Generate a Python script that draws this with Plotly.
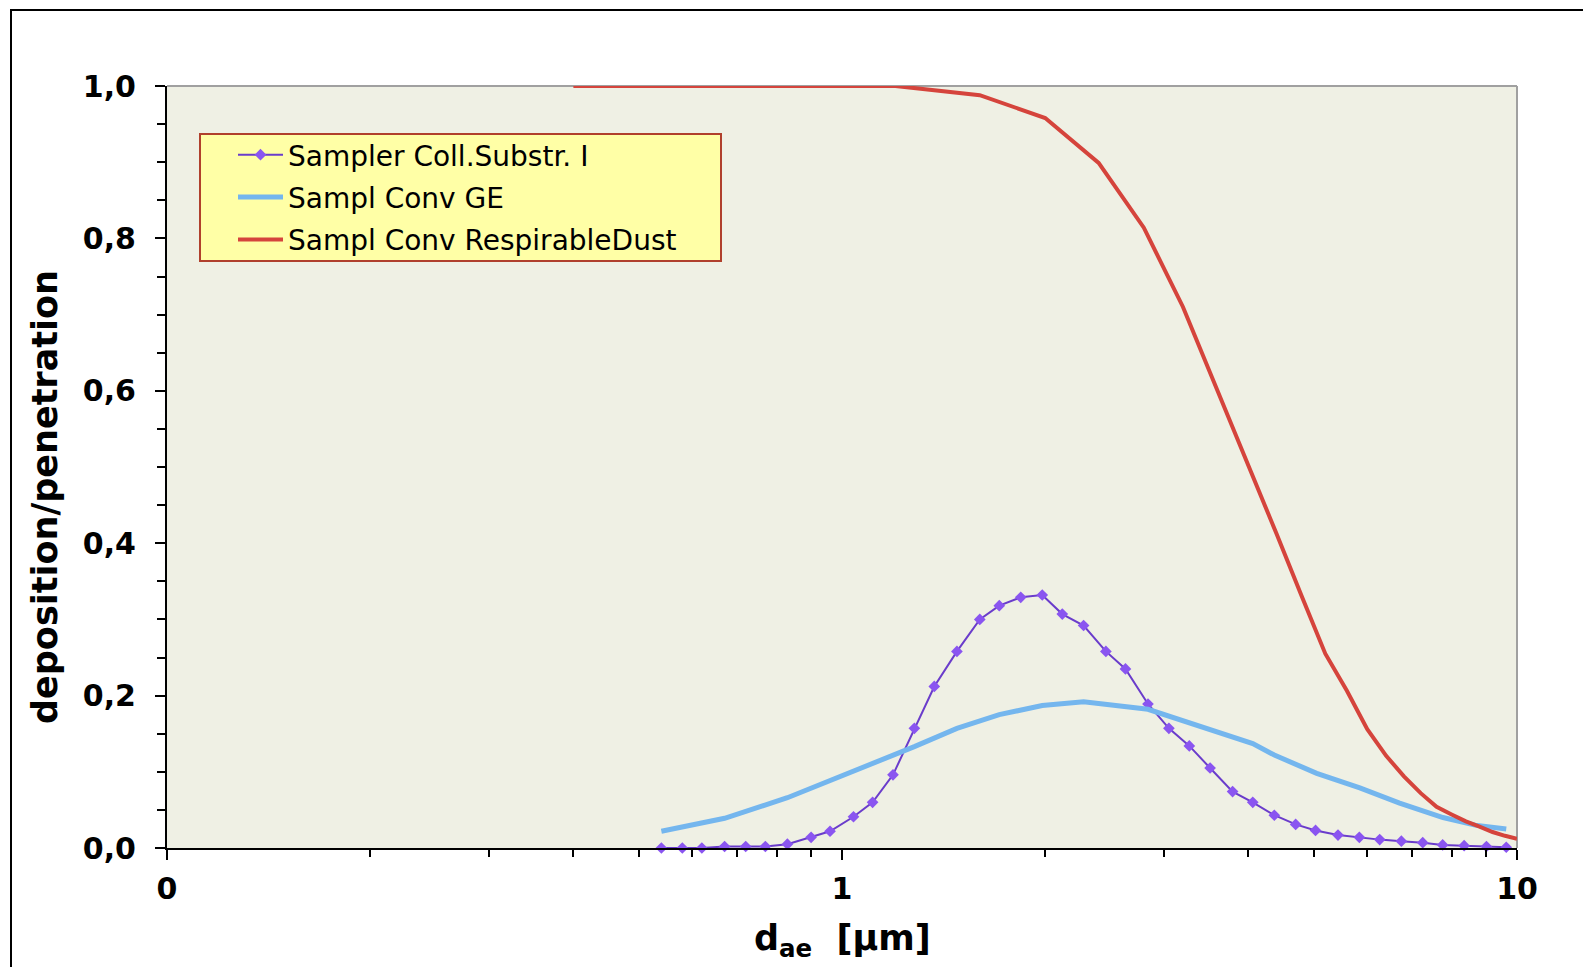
import plotly.graph_objects as go

# ---- data ----
purple_x = [0.54, 0.58, 0.62, 0.67, 0.72, 0.77, 0.83, 0.90, 0.96, 1.04, 1.11, 1.19, 1.28, 1.37,
            1.48, 1.60, 1.71, 1.84, 1.98, 2.12, 2.28, 2.46, 2.63, 2.84, 3.05, 3.27, 3.51, 3.79,
            4.06, 4.37, 4.70, 5.03, 5.43, 5.84, 6.26, 6.74, 7.25, 7.76, 8.35, 9.01, 9.64]
purple_y = [0.0, 0.0, 0.0, 0.002, 0.002, 0.002, 0.005, 0.014, 0.022, 0.041, 0.060, 0.096, 0.157, 0.212,
            0.258, 0.300, 0.318, 0.329, 0.332, 0.307, 0.292, 0.258, 0.235, 0.189, 0.157, 0.134, 0.105, 0.074,
            0.060, 0.043, 0.031, 0.023, 0.017, 0.014, 0.011, 0.009, 0.007, 0.004, 0.003, 0.002, 0.001]

blue_x = [0.54, 0.67, 0.83, 1.04, 1.28, 1.48, 1.71, 1.98, 2.28, 2.84, 3.49, 4.06, 4.37, 5.05,
          5.85, 6.70, 7.77, 8.67, 9.64]
blue_y = [0.022, 0.039, 0.066, 0.100, 0.133, 0.157, 0.175, 0.187, 0.192, 0.182, 0.157, 0.137, 0.122, 0.098,
          0.079, 0.059, 0.040, 0.030, 0.025]

red_x = [0.4, 0.8, 1.2, 1.6, 2.0, 2.4, 2.8, 3.2, 3.6, 4.0, 4.4, 4.8, 5.2, 5.6, 6.0, 6.4, 6.8,
         7.2, 7.6, 8.0, 8.4, 8.8, 9.2, 9.6, 10.0]
red_y = [1.0, 1.0, 1.0, 0.988, 0.958, 0.899, 0.814, 0.71, 0.60, 0.504, 0.413, 0.33, 0.255, 0.206, 0.156,
         0.121, 0.094, 0.072, 0.054, 0.044, 0.035, 0.028, 0.021, 0.016, 0.012]

names = ["Sampler Coll.Substr. I", "Sampl Conv GE", "Sampl Conv RespirableDust"]

x_tickvals = [0.1, 1, 10]
x_ticktext = ["0", "1", "10"]
x_minor = [0.2, 0.3, 0.4, 0.5, 0.6, 0.7, 0.8, 0.9, 2, 3, 4, 5, 6, 7, 8, 9]
y_tickvals = [0.0, 0.2, 0.4, 0.6, 0.8, 1.0]
y_ticktext = ["0,0", "0,2", "0,4", "0,6", "0,8", "1,0"]

FONT = "DejaVu Sans"

fig = go.Figure()
fig.add_trace(go.Scatter(
    x=purple_x, y=purple_y, name=names[0], mode="lines+markers", legendgroup="a",
    line=dict(color="#6A3CCB", width=2),
    marker=dict(symbol="diamond", size=9, color="#8A55F0"),
    cliponaxis=False,
))
fig.add_trace(go.Scatter(
    x=blue_x, y=blue_y, name=names[1], mode="lines", legendgroup="b",
    line=dict(color="#74B6EE", width=5),
))
fig.add_trace(go.Scatter(
    x=red_x, y=red_y, name=names[2], mode="lines", legendgroup="c",
    line=dict(color="#D5443C", width=4),
))

OFF = 8  # page body margin
W, H = 1583, 959
L, T = 159, 78
R = W - 1509
B = H - 840
pw, ph = W - L - R, H - T - B

def px(X):
    return (X - OFF - L) / pw

def py(Y):
    return (H - B - (Y - OFF)) / ph

fig.update_layout(
    width=W, height=H,
    margin=dict(l=L, r=R, t=T, b=B),
    paper_bgcolor="white",
    plot_bgcolor="#EFF0E4",
    font=dict(family=FONT, color="black"),
    showlegend=True,
    legend=dict(
        x=px(233), y=py(130), xanchor="left", yanchor="top",
        bgcolor="rgba(0,0,0,0)", borderwidth=0,
        font=dict(family=FONT, size=28, color="black"),
        itemwidth=45, tracegroupgap=3,
    ),
    xaxis=dict(
        type="log", range=[-1, 1],
        tickvals=x_tickvals, ticktext=x_ticktext,
        ticks="outside", ticklen=10, tickwidth=2, tickcolor="black",
        tickfont=dict(family=FONT, size=30, weight="bold", color="black"),
        ticklabelstandoff=3,
        minor=dict(tickvals=x_minor, ticks="outside", ticklen=7, tickwidth=2, tickcolor="black", showgrid=False),
        showline=True, linecolor="black", linewidth=2,
        showgrid=False, zeroline=False,
    ),
    yaxis=dict(
        range=[0, 1.0],
        tickvals=y_tickvals, ticktext=y_ticktext,
        ticks="outside", ticklen=10, tickwidth=2, tickcolor="black",
        tickfont=dict(family=FONT, size=30, weight="bold", color="black"),
        ticklabelstandoff=13,
        minor=dict(dtick=0.05, ticks="outside", ticklen=8, tickwidth=2, tickcolor="black", showgrid=False),
        showline=True, linecolor="black", linewidth=2,
        showgrid=False, zeroline=False,
    ),
    shapes=[
        # gray top and right plot borders
        dict(type="line", xref="paper", yref="paper", x0=0, x1=1, y0=1, y1=1,
             line=dict(color="#A0A0A0", width=2), layer="below"),
        dict(type="line", xref="paper", yref="paper", x0=1, x1=1, y0=0, y1=1,
             line=dict(color="#A0A0A0", width=2), layer="below"),
        # legend box
        dict(type="rect", xref="paper", yref="paper",
             x0=px(200), x1=px(721), y0=py(261), y1=py(134),
             line=dict(color="#B0402C", width=2), fillcolor="#FFFFA6", layer="above"),
        # outer slide frame
        dict(type="rect", xref="paper", yref="paper",
             x0=px(11), x1=px(1640), y0=py(1040), y1=py(10),
             line=dict(color="black", width=2), fillcolor="rgba(0,0,0,0)"),
    ],
    annotations=[
        dict(text="<b>deposition/penetration</b>", textangle=-90,
             xref="paper", yref="paper", x=px(45), y=py(497),
             xanchor="center", yanchor="middle", showarrow=False,
             font=dict(family=FONT, size=35, color="black")),
        dict(text="<b>d<sub>ae</sub>\u00a0\u00a0[µm]</b>",
             xref="paper", yref="paper", x=px(842), y=py(940),
             xanchor="center", yanchor="middle", showarrow=False,
             font=dict(family=FONT, size=35, color="black")),
    ],
)

fig.write_html("out.html")
